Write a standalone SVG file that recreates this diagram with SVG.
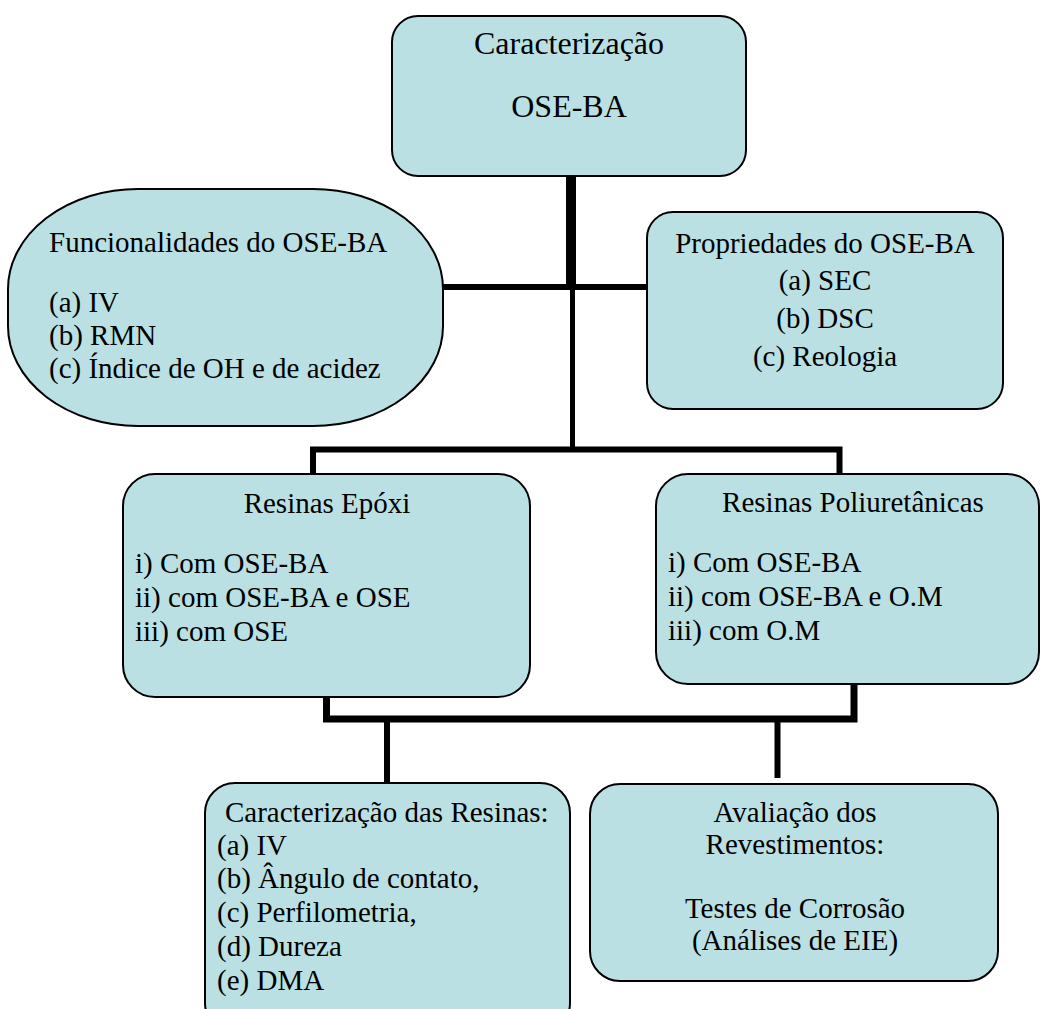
<svg xmlns="http://www.w3.org/2000/svg" width="1040" height="1009" viewBox="0 0 1040 1009">
<style>
.box{fill:#BAE0E3;stroke:#000;stroke-width:2}
.t{font-family:"Liberation Serif","Times New Roman",serif;font-size:29px;fill:#000}
.big{font-size:32px}
.c{text-anchor:middle}
.ln{fill:none;stroke:#000;stroke-linecap:butt;stroke-linejoin:miter}
</style>
<rect width="1040" height="1009" fill="#fff"/>
<g id="connectors">
<line class="ln" x1="571" y1="176" x2="571" y2="287" stroke-width="10"/>
<line class="ln" x1="572.5" y1="287" x2="572.5" y2="449" stroke-width="5"/>
<line class="ln" x1="440" y1="287" x2="648" y2="287" stroke-width="6"/>
<path class="ln" d="M313,474 V449.5 H839.5 V475" stroke-width="6"/>
<path class="ln" d="M326.5,697 V719 H854 V684" stroke-width="7"/>
<line class="ln" x1="387" y1="719" x2="387" y2="783" stroke-width="6"/>
<line class="ln" x1="777.5" y1="719" x2="777.5" y2="778" stroke-width="6"/>
</g>
<g id="node-caracterizacao">
<rect class="box" x="392" y="16" width="354" height="160" rx="26" ry="26"/>
<text class="t big c" x="569" y="54">Caracterização</text>
<text class="t big c" x="569" y="117">OSE-BA</text>
</g>
<g id="node-funcionalidades">
<rect class="box" x="8" y="189" width="435" height="237" rx="130" ry="100"/>
<text class="t" x="49" y="252">Funcionalidades do OSE-BA</text>
<text class="t" x="49" y="312">(a) IV</text>
<text class="t" x="49" y="345">(b) RMN</text>
<text class="t" x="49" y="378">(c) Índice de OH e de acidez</text>
</g>
<g id="node-propriedades">
<rect class="box" x="647" y="212" width="356" height="197" rx="26" ry="26"/>
<text class="t c" x="825" y="253">Propriedades do OSE-BA</text>
<text class="t c" x="825" y="290">(a) SEC</text>
<text class="t c" x="825" y="328">(b) DSC</text>
<text class="t c" x="825" y="366">(c) Reologia</text>
</g>
<g id="node-epoxi">
<rect class="box" x="123" y="474" width="407" height="223" rx="32" ry="32"/>
<text class="t c" x="327" y="513">Resinas Epóxi</text>
<text class="t" x="135" y="573">i) Com OSE-BA</text>
<text class="t" x="135" y="607">ii) com OSE-BA e OSE</text>
<text class="t" x="135" y="641">iii) com OSE</text>
</g>
<g id="node-poliuretanicas">
<rect class="box" x="656" y="474" width="383" height="210" rx="32" ry="32"/>
<text class="t c" x="853" y="512">Resinas Poliuretânicas</text>
<text class="t" x="668" y="572">i) Com OSE-BA</text>
<text class="t" x="668" y="606">ii) com OSE-BA e O.M</text>
<text class="t" x="668" y="640">iii) com O.M</text>
</g>
<g id="node-caracterizacao-resinas">
<rect class="box" x="205" y="783" width="365" height="250" rx="30" ry="30"/>
<text class="t" x="225" y="822">Caracterização das Resinas:</text>
<text class="t" x="217" y="855">(a) IV</text>
<text class="t" x="217" y="888">(b) Ângulo de contato,</text>
<text class="t" x="217" y="922">(c) Perfilometria,</text>
<text class="t" x="217" y="956">(d) Dureza</text>
<text class="t" x="217" y="990">(e) DMA</text>
</g>
<g id="node-avaliacao">
<rect class="box" x="590" y="784" width="408" height="197" rx="30" ry="30"/>
<text class="t c" x="795" y="822">Avaliação dos</text>
<text class="t c" x="795" y="854">Revestimentos:</text>
<text class="t c" x="795" y="918">Testes de Corrosão</text>
<text class="t c" x="795" y="950">(Análises de EIE)</text>
</g>
</svg>
